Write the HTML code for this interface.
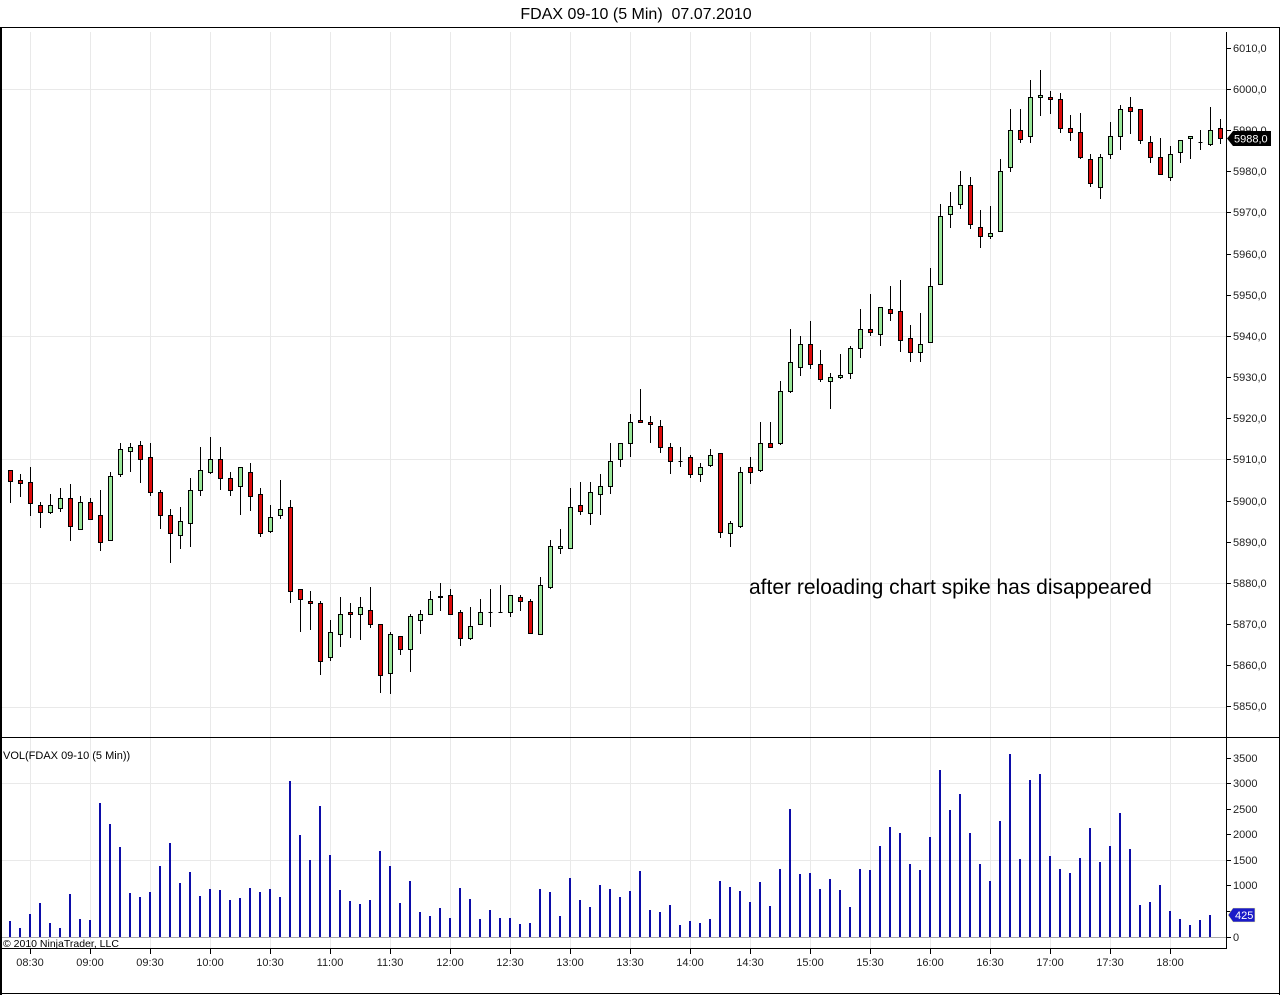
<!DOCTYPE html>
<html><head><meta charset="utf-8"><style>
html,body{margin:0;padding:0;background:#fff;}
svg{display:block;font-family:"Liberation Sans",Arial,sans-serif;}
</style></head><body>
<svg width="1280" height="995" viewBox="0 0 1280 995" xmlns="http://www.w3.org/2000/svg">
<rect x="0" y="0" width="1280" height="995" fill="#fff"/>
<text x="636" y="19" font-size="16" text-anchor="middle" fill="#000" xml:space="preserve">FDAX 09-10 (5 Min)  07.07.2010</text>
<!-- grid -->
<g stroke="#e9e9e9" stroke-width="1" shape-rendering="crispEdges">
<path d="M30.5,32V948M90.5,32V948M150.5,32V948M210.5,32V948M270.5,32V948M330.5,32V948M390.5,32V948M450.5,32V948M510.5,32V948M570.5,32V948M630.5,32V948M690.5,32V948M750.5,32V948M810.5,32V948M870.5,32V948M930.5,32V948M990.5,32V948M1050.5,32V948M1110.5,32V948M1170.5,32V948"/>
<path d="M2,89.5H1226M2,212.5H1226M2,336.5H1226M2,459.5H1226M2,583.5H1226M2,707.5H1226M2,783.5H1226M2,860.5H1226"/>
</g>
<path d="M2,937.5H1226" stroke="#a8a8a8" stroke-width="1" shape-rendering="crispEdges"/>
<!-- wicks -->
<path stroke="#000" stroke-width="1" fill="none" shape-rendering="crispEdges" d="M10.5,470V503M20.5,474V497M30.5,467V516M40.5,502V528M50.5,494V514M60.5,488V512M70.5,484V541M80.5,496V529M90.5,498V519M100.5,490V551M110.5,472V540M120.5,443V477M130.5,443V472M140.5,441V483M150.5,443V496M160.5,490V529M170.5,509V563M180.5,507V549M190.5,478V547M200.5,447V496M210.5,437V474M220.5,447V490M230.5,472V496M240.5,467V515M250.5,463V511M260.5,488V537M270.5,505V533M280.5,480V519M290.5,500V603M300.5,589V632M310.5,591V630M320.5,601V675M330.5,620V661M340.5,597V647M350.5,603V638M360.5,597V640M370.5,587V628M380.5,624V693M390.5,632V694M400.5,636V655M410.5,614V672M420.5,610V634M430.5,591V614M440.5,583V611M450.5,589V614M460.5,610V646M470.5,607V640M480.5,599V624M490.5,589V627M500.5,585V613M510.5,595V617M520.5,595V611M530.5,599V634M540.5,577V634M550.5,540V589M560.5,529V554M570.5,488V548M580.5,482V515M590.5,482V525M600.5,474V515M610.5,443V494M620.5,443V467M630.5,414V457M640.5,389V422M650.5,416V443M660.5,420V453M670.5,443V474M680.5,447V467M690.5,455V478M700.5,463V482M710.5,449V467M720.5,453V538M730.5,521V547M740.5,467V528M750.5,457V484M760.5,422V472M770.5,422V447M780.5,381V445M790.5,329V393M800.5,336V376M810.5,321V369M820.5,350V382M830.5,373V409M840.5,354V379M850.5,346V379M860.5,309V358M870.5,294V336M880.5,307V346M890.5,286V321M900.5,280V352M910.5,325V362M920.5,313V362M930.5,268V342M940.5,204V284M950.5,192V228M960.5,171V209M970.5,177V229M980.5,210V248M990.5,206V239M1000.5,159V231M1010.5,109V172M1020.5,109V143M1030.5,80V143M1040.5,70V116M1050.5,91V114M1060.5,93V133M1070.5,115V141M1080.5,113V159M1090.5,154V187M1100.5,154V199M1110.5,122V159M1120.5,105V150M1130.5,97V134M1140.5,109V144M1150.5,136V163M1160.5,138V175M1170.5,146V181M1180.5,140V163M1190.5,136V159M1200.5,130V150M1210.5,107V146M1220.5,119V144"/>
<!-- red bodies -->
<path fill="#dd0a0a" stroke="#000" stroke-width="1" shape-rendering="crispEdges" d="M8.5,470.5h4v11h-4zM18.5,480.5h4v3h-4zM28.5,482.5h4v21h-4zM38.5,505.5h4v7h-4zM68.5,498.5h4v28h-4zM88.5,502.5h4v17h-4zM98.5,515.5h4v27h-4zM138.5,445.5h4v14h-4zM148.5,457.5h4v35h-4zM158.5,492.5h4v23h-4zM168.5,515.5h4v18h-4zM218.5,459.5h4v19h-4zM228.5,478.5h4v12h-4zM248.5,472.5h4v24h-4zM258.5,494.5h4v39h-4zM288.5,507.5h4v84h-4zM298.5,589.5h4v10h-4zM308.5,601.5h4v2h-4zM318.5,603.5h4v58h-4zM348.5,612.5h4v2h-4zM368.5,610.5h4v14h-4zM378.5,624.5h4v51h-4zM398.5,636.5h4v13h-4zM448.5,595.5h4v19h-4zM458.5,612.5h4v26h-4zM518.5,597.5h4v4h-4zM528.5,601.5h4v32h-4zM578.5,505.5h4v6h-4zM638.5,420.5h4v2h-4zM648.5,422.5h4v2h-4zM658.5,426.5h4v21h-4zM668.5,447.5h4v14h-4zM688.5,457.5h4v17h-4zM718.5,453.5h4v79h-4zM748.5,467.5h4v5h-4zM768.5,443.5h4v4h-4zM808.5,344.5h4v20h-4zM818.5,364.5h4v15h-4zM868.5,329.5h4v3h-4zM888.5,309.5h4v4h-4zM898.5,311.5h4v29h-4zM908.5,338.5h4v14h-4zM968.5,185.5h4v39h-4zM978.5,227.5h4v9h-4zM1018.5,130.5h4v9h-4zM1048.5,97.5h4v2h-4zM1058.5,99.5h4v29h-4zM1068.5,128.5h4v4h-4zM1078.5,132.5h4v25h-4zM1088.5,159.5h4v24h-4zM1128.5,107.5h4v4h-4zM1138.5,109.5h4v31h-4zM1148.5,142.5h4v15h-4zM1158.5,157.5h4v17h-4zM1218.5,128.5h4v10h-4z"/>
<!-- green bodies -->
<path fill="#98e698" stroke="#000" stroke-width="1" shape-rendering="crispEdges" d="M48.5,505.5h4v7h-4zM58.5,498.5h4v10h-4zM78.5,502.5h4v27h-4zM108.5,476.5h4v64h-4zM118.5,449.5h4v25h-4zM128.5,447.5h4v4h-4zM178.5,521.5h4v14h-4zM188.5,490.5h4v33h-4zM198.5,470.5h4v20h-4zM208.5,459.5h4v13h-4zM238.5,467.5h4v19h-4zM268.5,517.5h4v14h-4zM278.5,509.5h4v6h-4zM328.5,632.5h4v25h-4zM338.5,614.5h4v20h-4zM358.5,607.5h4v7h-4zM388.5,634.5h4v39h-4zM408.5,616.5h4v33h-4zM418.5,614.5h4v6h-4zM428.5,599.5h4v15h-4zM438.5,596.5h4v1h-4zM468.5,626.5h4v12h-4zM478.5,612.5h4v12h-4zM488.5,612.5h4v0h-4zM498.5,612.5h4v0h-4zM508.5,595.5h4v17h-4zM538.5,585.5h4v49h-4zM548.5,546.5h4v41h-4zM558.5,546.5h4v2h-4zM568.5,507.5h4v41h-4zM588.5,492.5h4v21h-4zM598.5,486.5h4v8h-4zM608.5,461.5h4v25h-4zM618.5,443.5h4v16h-4zM628.5,422.5h4v21h-4zM678.5,461.5h4v0h-4zM698.5,467.5h4v7h-4zM708.5,455.5h4v10h-4zM728.5,523.5h4v10h-4zM738.5,472.5h4v54h-4zM758.5,443.5h4v27h-4zM778.5,391.5h4v52h-4zM788.5,362.5h4v29h-4zM798.5,344.5h4v23h-4zM828.5,377.5h4v4h-4zM838.5,375.5h4v2h-4zM848.5,348.5h4v25h-4zM858.5,329.5h4v19h-4zM878.5,307.5h4v27h-4zM918.5,344.5h4v8h-4zM928.5,286.5h4v56h-4zM938.5,216.5h4v68h-4zM948.5,206.5h4v8h-4zM958.5,185.5h4v19h-4zM988.5,233.5h4v3h-4zM998.5,171.5h4v60h-4zM1008.5,130.5h4v37h-4zM1028.5,97.5h4v39h-4zM1038.5,95.5h4v2h-4zM1098.5,157.5h4v30h-4zM1108.5,136.5h4v18h-4zM1118.5,109.5h4v27h-4zM1168.5,154.5h4v23h-4zM1178.5,140.5h4v12h-4zM1188.5,136.5h4v2h-4zM1198.5,142.5h4v0h-4zM1208.5,130.5h4v14h-4z"/>
<!-- volume -->
<path stroke="#0c0ca8" stroke-width="2" fill="none" shape-rendering="crispEdges" d="M10,921V937M20,928V937M30,914V937M40,903V937M50,923V937M60,928V937M70,894V937M80,919V937M90,920V937M100,803V937M110,824V937M120,847V937M130,893V937M140,897V937M150,892V937M160,866V937M170,843V937M180,883V937M190,872V937M200,896V937M210,889V937M220,890V937M230,900V937M240,898V937M250,888V937M260,892V937M270,889V937M280,897V937M290,781V937M300,835V937M310,860V937M320,806V937M330,855V937M340,890V937M350,901V937M360,904V937M370,900V937M380,851V937M390,866V937M400,903V937M410,881V937M420,912V937M430,916V937M440,908V937M450,918V937M460,888V937M470,899V937M480,919V937M490,910V937M500,918V937M510,918V937M520,924V937M530,923V937M540,889V937M550,892V937M560,916V937M570,878V937M580,900V937M590,907V937M600,885V937M610,889V937M620,897V937M630,891V937M640,871V937M650,910V937M660,912V937M670,905V937M680,925V937M690,921V937M700,923V937M710,919V937M720,881V937M730,887V937M740,891V937M750,902V937M760,882V937M770,906V937M780,869V937M790,809V937M800,874V937M810,873V937M820,889V937M830,879V937M840,890V937M850,907V937M860,869V937M870,870V937M880,846V937M890,827V937M900,833V937M910,864V937M920,870V937M930,837V937M940,770V937M950,810V937M960,794V937M970,833V937M980,864V937M990,881V937M1000,821V937M1010,754V937M1020,859V937M1030,780V937M1040,774V937M1050,856V937M1060,869V937M1070,873V937M1080,858V937M1090,828V937M1100,862V937M1110,846V937M1120,813V937M1130,849V937M1140,905V937M1150,902V937M1160,885V937M1170,911V937M1180,919V937M1190,925V937M1200,920V937M1210,915V937"/>
<!-- frame -->
<g stroke="#000" stroke-width="1" fill="none" shape-rendering="crispEdges">
<path d="M0,27.5H1280M0.5,27V995M1.5,27V995M1279.5,27V995M0,993.5H1280M0,737.5H1280M0,948.5H1227M1226.5,32V949"/>
<path d="M1226,48.5h5M1226,89.5h5M1226,130.5h5M1226,171.5h5M1226,212.5h5M1226,254.5h5M1226,295.5h5M1226,336.5h5M1226,377.5h5M1226,418.5h5M1226,459.5h5M1226,501.5h5M1226,542.5h5M1226,583.5h5M1226,624.5h5M1226,665.5h5M1226,706.5h5M1226,758.5h5M1226,783.5h5M1226,809.5h5M1226,834.5h5M1226,860.5h5M1226,885.5h5M1226,911.5h5M1226,937.5h5"/>
<path d="M30.5,949v5M90.5,949v5M150.5,949v5M210.5,949v5M270.5,949v5M330.5,949v5M390.5,949v5M450.5,949v5M510.5,949v5M570.5,949v5M630.5,949v5M690.5,949v5M750.5,949v5M810.5,949v5M870.5,949v5M930.5,949v5M990.5,949v5M1050.5,949v5M1110.5,949v5M1170.5,949v5"/>
</g>
<g font-size="11" fill="#222">
<text x="1233" y="52">6010,0</text>
<text x="1233" y="93">6000,0</text>
<text x="1233" y="134">5990,0</text>
<text x="1233" y="175">5980,0</text>
<text x="1233" y="216">5970,0</text>
<text x="1233" y="258">5960,0</text>
<text x="1233" y="299">5950,0</text>
<text x="1233" y="340">5940,0</text>
<text x="1233" y="381">5930,0</text>
<text x="1233" y="422">5920,0</text>
<text x="1233" y="463">5910,0</text>
<text x="1233" y="505">5900,0</text>
<text x="1233" y="546">5890,0</text>
<text x="1233" y="587">5880,0</text>
<text x="1233" y="628">5870,0</text>
<text x="1233" y="669">5860,0</text>
<text x="1233" y="710">5850,0</text>
<text x="1233" y="762">3500</text>
<text x="1233" y="787">3000</text>
<text x="1233" y="813">2500</text>
<text x="1233" y="838">2000</text>
<text x="1233" y="864">1500</text>
<text x="1233" y="889">1000</text>
<text x="1233" y="941">0</text>
</g>
<g font-size="11" fill="#222" text-anchor="middle">
<text x="30" y="966">08:30</text>
<text x="90" y="966">09:00</text>
<text x="150" y="966">09:30</text>
<text x="210" y="966">10:00</text>
<text x="270" y="966">10:30</text>
<text x="330" y="966">11:00</text>
<text x="390" y="966">11:30</text>
<text x="450" y="966">12:00</text>
<text x="510" y="966">12:30</text>
<text x="570" y="966">13:00</text>
<text x="630" y="966">13:30</text>
<text x="690" y="966">14:00</text>
<text x="750" y="966">14:30</text>
<text x="810" y="966">15:00</text>
<text x="870" y="966">15:30</text>
<text x="930" y="966">16:00</text>
<text x="990" y="966">16:30</text>
<text x="1050" y="966">17:00</text>
<text x="1110" y="966">17:30</text>
<text x="1170" y="966">18:00</text>
</g>
<text x="3" y="759" font-size="11" fill="#000">VOL(FDAX 09-10 (5 Min))</text>
<text x="3" y="947" font-size="10.5" fill="#000">© 2010 NinjaTrader, LLC</text>
<text x="749" y="594" font-size="21" fill="#000">after reloading chart spike has disappeared</text>
<!-- last price marker -->
<polygon points="1227,138.5 1233,131 1271,131 1271,146 1233,146" fill="#000"/>
<text x="1234" y="142.5" font-size="11" fill="#fff">5988,0</text>
<!-- volume marker -->
<polygon points="1228,915 1233,908 1255,908 1255,922 1233,922" fill="#1a1ac8" stroke="#ffffa0" stroke-width="0.6"/>
<text x="1235" y="919" font-size="11" fill="#fff">425</text>
</svg>
</body></html>
